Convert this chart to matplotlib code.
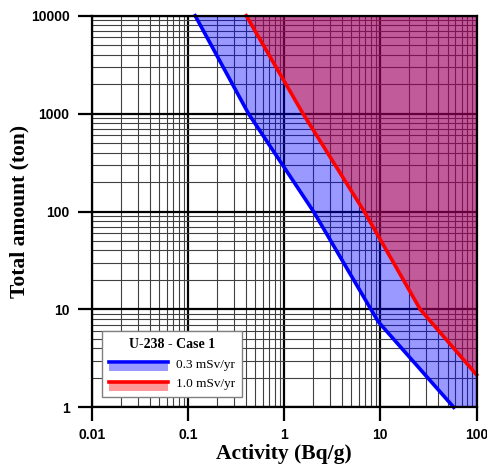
import matplotlib
matplotlib.use("Agg")
import matplotlib.pyplot as plt
from matplotlib.lines import Line2D
from matplotlib.patches import Rectangle, Patch
from matplotlib.legend_handler import HandlerBase
from matplotlib.ticker import LogLocator, NullFormatter, FixedLocator, FixedFormatter

# Data
blue_x = [0.119, 0.426, 2.02, 9.5, 58.0]
blue_y = [10000, 1000, 100, 7.5, 1]
red_x = [0.404, 1.57, 6.8, 26.0, 100.0]
red_y = [10000, 1000, 100, 10, 2.15]
x_ticks = [0.01, 0.1, 1, 10, 100]
x_ticklabels = ["0.01", "0.1", "1", "10", "100"]
y_ticks = [1, 10, 100, 1000, 10000]
y_ticklabels = ["1", "10", "100", "1000", "10000"]
series_labels = ["0.3 mSv/yr", "1.0 mSv/yr"]
legend_title = "U-238 - Case 1"

fig = plt.figure(figsize=(4.87, 4.67), dpi=100)
ax = fig.add_axes([0.1883, 0.1278, 0.7902, 0.8386])
ax.set_xscale("log")
ax.set_yscale("log")
ax.set_xlim(0.01, 100)
ax.set_ylim(1, 10000)

# grid
ax.xaxis.set_minor_locator(LogLocator(base=10, subs=range(2, 10)))
ax.yaxis.set_minor_locator(LogLocator(base=10, subs=range(2, 10)))
ax.xaxis.set_minor_formatter(NullFormatter())
ax.yaxis.set_minor_formatter(NullFormatter())
ax.grid(True, which="major", color="black", linewidth=1.6, zorder=1)
ax.grid(True, which="minor", color="0.25", linewidth=0.8, zorder=1)
ax.set_axisbelow(True)

# fills
ax.fill(blue_x + [100, 100], blue_y + [1, 10000], color=(0, 0, 1), alpha=0.4,
        linewidth=0, zorder=2)
ax.fill(red_x + [100], red_y + [10000], color=(1, 0, 0), alpha=0.4,
        linewidth=0, zorder=3)
ax.plot(blue_x, blue_y, color=(0, 0, 1), linewidth=2.6, zorder=4, clip_on=False)
ax.plot(red_x, red_y, color=(1, 0, 0), linewidth=2.6, zorder=4, clip_on=False)

ax.xaxis.set_major_locator(FixedLocator(x_ticks))
ax.xaxis.set_major_formatter(FixedFormatter(x_ticklabels))
ax.yaxis.set_major_locator(FixedLocator(y_ticks))
ax.yaxis.set_major_formatter(FixedFormatter(y_ticklabels))
ax.tick_params(which="major", direction="out", length=10, width=1.6, pad=6,
               labelsize=10)
ax.tick_params(axis="x", which="major", pad=5)
ax.tick_params(which="minor", length=0)
for lab in ax.get_xticklabels() + ax.get_yticklabels():
    lab.set_fontfamily("Liberation Sans")
    lab.set_fontweight("bold")
for s in ax.spines.values():
    s.set_linewidth(1.6)
    s.set_zorder(5)

ax.set_xlabel("Activity (Bq/g)", family="Liberation Serif", fontweight="bold",
              fontsize=15.5, labelpad=1)
ax.set_ylabel("Total amount (ton)", family="Liberation Serif", fontweight="bold",
              fontsize=15.5, labelpad=1)


class LinePatchHandler(HandlerBase):
    def __init__(self, color):
        super().__init__()
        self.color = color

    def create_artists(self, legend, orig_handle, xdescent, ydescent, width,
                       height, fontsize, trans):
        rect = Rectangle((-xdescent, -ydescent - 0.25 * height), width,
                         height * 0.7, facecolor=self.color, alpha=0.4,
                         edgecolor="none", transform=trans)
        line = Line2D([-xdescent, -xdescent + width],
                      [-ydescent + 0.55 * height] * 2, color=self.color,
                      linewidth=2.6, transform=trans)
        return [rect, line]


h1 = Patch(label=series_labels[0])
h2 = Patch(label=series_labels[1])
leg = ax.legend([h1, h2], series_labels, loc="lower left",
                bbox_to_anchor=(0.01, 0.01), title=legend_title,
                handler_map={h1: LinePatchHandler((0, 0, 1)),
                             h2: LinePatchHandler((1, 0, 0))},
                prop={"family": "Liberation Serif", "size": 9.5},
                title_fontproperties={"family": "Liberation Serif",
                                      "weight": "bold", "size": 10},
                handlelength=4.5, handleheight=0.9, fancybox=False,
                framealpha=1, edgecolor="0.5", borderpad=0.5,
                labelspacing=0.5, handletextpad=0.6)
leg.get_frame().set_linewidth(1.0)
leg.set_zorder(10)

fig.savefig("out.png", dpi=100)
